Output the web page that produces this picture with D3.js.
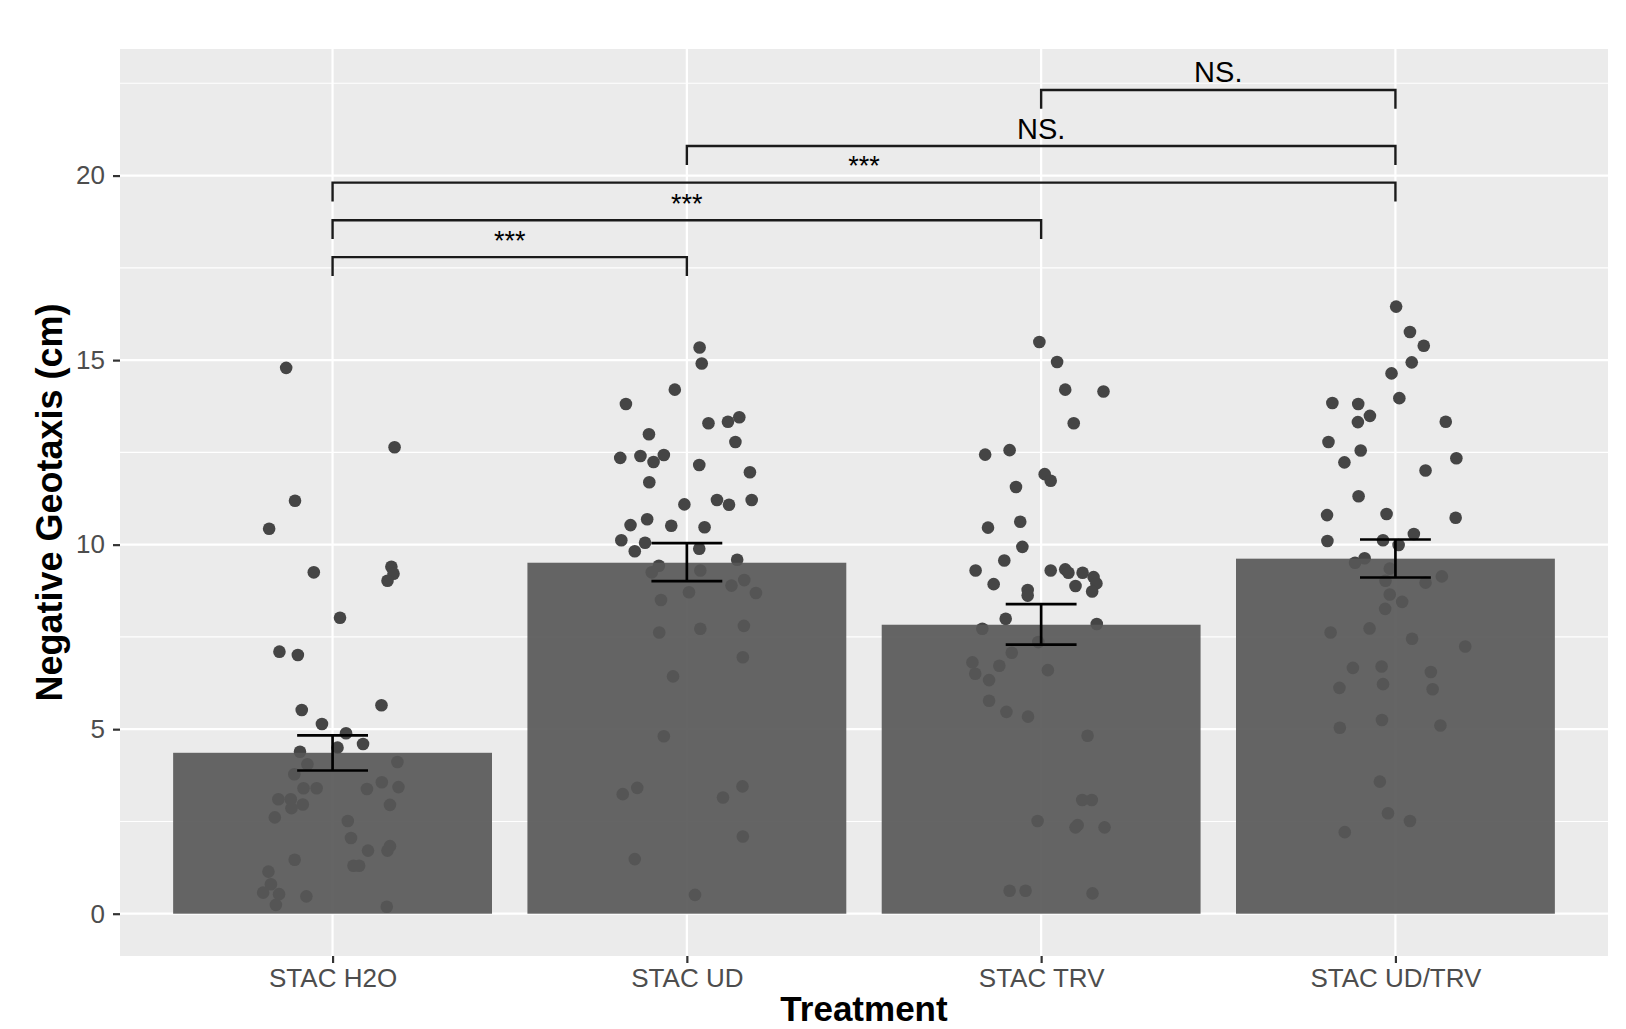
<!DOCTYPE html>
<html>
<head>
<meta charset="utf-8">
<script src="https://cdn.jsdelivr.net/npm/d3@7"></script>
<style>
  html, body { margin: 0; padding: 0; background: #ffffff; }
  svg { display: block; }
  text { font-family: "Liberation Sans", Arial, Helvetica, sans-serif; }
</style>
</head>
<body>
<svg id="chart" width="1626" height="1029"></svg>
<script>
// ---------------- DATA ----------------
const categories = ["STAC H2O", "STAC UD", "STAC TRV", "STAC UD/TRV"];
const barMeans = [4.36, 9.51, 7.83, 9.62];
const errLow  = [3.88, 9.01, 7.29, 9.11];
const errHigh = [4.83, 10.04, 8.39, 10.14];
const yTicks = [0, 5, 10, 15, 20];
const yMinorTicks = [2.5, 7.5, 12.5, 17.5, 22.5];

// individual observations (value, jitter in category units)
const h2oValues = [14.79,12.64,11.19,10.43,9.25,9.40,9.21,9.02,8.02,7.10,7.01,5.52,5.65,5.14,4.89,4.60,4.50,4.39,4.11,4.05,3.78,3.56,3.43,3.40,3.40,3.38,3.10,3.10,2.86,2.96,2.95,2.61,2.51,2.05,1.71,1.83,1.71,1.46,1.30,1.30,1.14,0.80,0.57,0.53,0.47,0.24,0.19];
const h2oJitter = [-0.131,0.175,-0.106,-0.179,-0.053,0.166,0.172,0.155,0.021,-0.150,-0.098,-0.087,0.138,-0.030,0.038,0.086,0.014,-0.092,0.183,-0.071,-0.108,0.139,0.186,-0.082,-0.045,0.097,-0.153,-0.118,-0.116,-0.084,0.162,-0.163,0.043,0.052,0.100,0.162,0.155,-0.107,0.059,0.075,-0.181,-0.174,-0.196,-0.151,-0.074,-0.160,0.153];

const udValues = [15.34,14.91,14.20,13.81,13.29,13.33,13.45,12.99,12.78,12.35,12.40,12.24,12.43,12.16,11.96,11.69,11.09,11.21,11.08,11.21,10.53,10.69,10.51,10.47,10.12,10.05,9.82,9.89,9.59,9.43,9.25,9.30,9.04,8.89,8.71,8.69,8.50,7.62,7.72,7.80,6.95,6.43,4.81,3.24,3.41,3.15,3.45,2.09,1.48,0.51];
const udJitter = [0.036,0.042,-0.034,-0.172,0.061,0.116,0.148,-0.107,0.137,-0.188,-0.131,-0.094,-0.065,0.035,0.178,-0.106,-0.007,0.085,0.119,0.183,-0.159,-0.112,-0.044,0.050,-0.185,-0.118,-0.147,0.035,0.142,-0.079,-0.099,0.038,0.162,0.126,0.006,0.195,-0.073,-0.078,0.038,0.161,0.158,-0.039,-0.065,-0.181,-0.140,0.102,0.157,0.158,-0.147,0.023];

const trvValues = [15.49,14.95,14.20,14.15,13.29,12.44,12.56,11.91,11.73,11.56,10.46,10.62,9.94,9.57,9.30,9.30,9.33,9.24,9.24,9.12,8.95,8.73,8.88,8.93,8.77,8.62,7.99,7.85,7.72,7.36,7.07,6.81,6.72,6.60,6.50,6.33,5.77,5.47,5.34,4.82,3.08,3.08,2.51,2.34,2.40,2.34,0.62,0.62,0.55];
const trvJitter = [-0.005,0.045,0.068,0.176,0.092,-0.158,-0.089,0.010,0.027,-0.071,-0.150,-0.059,-0.053,-0.104,-0.185,0.027,0.068,0.077,0.117,0.148,0.156,0.144,0.097,-0.134,-0.038,-0.038,-0.100,0.157,-0.166,-0.008,-0.083,-0.194,-0.118,0.019,-0.186,-0.147,-0.147,-0.098,-0.037,0.131,0.116,0.143,-0.010,0.097,0.103,0.179,-0.089,-0.044,0.145];

const udtrvValues = [16.45,15.76,15.39,14.94,14.64,13.97,13.84,13.81,13.49,13.32,13.33,12.78,12.55,12.23,12.34,12.01,11.31,10.80,10.83,10.73,10.29,10.10,10.12,9.99,9.63,9.51,9.35,9.02,9.14,8.97,8.65,8.45,8.26,7.62,7.73,7.45,7.24,6.66,6.70,6.55,6.12,6.22,6.08,5.04,5.25,5.10,3.58,2.72,2.51,2.21];
const udtrvJitter = [0.002,0.041,0.080,0.046,-0.011,0.011,-0.178,-0.105,-0.072,-0.106,0.142,-0.189,-0.098,-0.144,0.172,0.085,-0.104,-0.193,-0.025,0.170,0.052,-0.192,-0.035,0.009,-0.087,-0.114,-0.016,-0.028,0.131,0.085,-0.016,0.019,-0.029,-0.183,-0.073,0.047,0.197,-0.120,-0.039,0.100,-0.158,-0.035,0.105,-0.157,-0.038,0.127,-0.044,-0.021,0.041,-0.143];

// significance brackets: [from index, to index, label, y level]
const compFrom   = [0, 0, 0, 1, 2];
const compTo     = [1, 2, 3, 3, 3];
const compLabels = ["***", "***", "***", "NS.", "NS."];
const compY      = [17.79, 18.79, 19.81, 20.80, 22.32];
const tipLength  = 0.51;

// ---------------- LAYOUT ----------------
const panel = { left: 120, right: 1608, top: 49, bottom: 956 };
const yDomain = [-1.146, 23.43];

const svg = d3.select("#chart");

const x = d3.scaleLinear().domain([0.4, categories.length + 0.6]).range([panel.left, panel.right]);
const y = d3.scaleLinear().domain(yDomain).range([panel.bottom, panel.top]);
const unit = x(1) - x(0);

// panel background
svg.append("rect")
  .attr("x", panel.left).attr("y", panel.top)
  .attr("width", panel.right - panel.left).attr("height", panel.bottom - panel.top)
  .attr("fill", "#EBEBEB");

// grid lines
const grid = svg.append("g");
grid.selectAll("line.minor").data(yMinorTicks).join("line")
  .attr("x1", panel.left).attr("x2", panel.right)
  .attr("y1", d => y(d)).attr("y2", d => y(d))
  .attr("stroke", "#ffffff").attr("stroke-width", 1.1);
grid.selectAll("line.major").data(yTicks).join("line")
  .attr("x1", panel.left).attr("x2", panel.right)
  .attr("y1", d => y(d)).attr("y2", d => y(d))
  .attr("stroke", "#ffffff").attr("stroke-width", 2.2);
grid.selectAll("line.vx").data(categories).join("line")
  .attr("x1", (d, i) => x(i + 1)).attr("x2", (d, i) => x(i + 1))
  .attr("y1", panel.top).attr("y2", panel.bottom)
  .attr("stroke", "#ffffff").attr("stroke-width", 2.2);

// points (jittered)
const groups = [
  [h2oValues, h2oJitter],
  [udValues, udJitter],
  [trvValues, trvJitter],
  [udtrvValues, udtrvJitter]
];
const pts = [];
groups.forEach((g, gi) => {
  g[0].forEach((v, k) => pts.push({ gi, v, j: g[1][k] }));
});
svg.append("g").selectAll("circle").data(pts).join("circle")
  .attr("cx", d => x(d.gi + 1 + d.j))
  .attr("cy", d => y(d.v))
  .attr("r", 6.3)
  .attr("fill", "#454545");

// bars (drawn over points, slightly transparent)
svg.append("g").selectAll("rect").data(barMeans).join("rect")
  .attr("x", (d, i) => x(i + 1 - 0.45))
  .attr("width", 0.9 * unit)
  .attr("y", d => y(d))
  .attr("height", d => y(0) - y(d))
  .attr("fill", "#565656")
  .attr("fill-opacity", 0.915);

// error bars
const eb = svg.append("g").attr("stroke", "#000").attr("stroke-width", 2.7).attr("fill", "none");
categories.forEach((c, i) => {
  const cx = x(i + 1);
  const hw = 0.1 * unit;
  eb.append("line").attr("x1", cx).attr("x2", cx).attr("y1", y(errLow[i])).attr("y2", y(errHigh[i]));
  eb.append("line").attr("x1", cx - hw).attr("x2", cx + hw).attr("y1", y(errLow[i])).attr("y2", y(errLow[i]));
  eb.append("line").attr("x1", cx - hw).attr("x2", cx + hw).attr("y1", y(errHigh[i])).attr("y2", y(errHigh[i]));
});

// significance brackets
const br = svg.append("g");
compY.forEach((lvl, k) => {
  const x1 = x(compFrom[k] + 1), x2 = x(compTo[k] + 1);
  const yl = y(lvl), yt = y(lvl - tipLength);
  br.append("path")
    .attr("d", `M${x1},${yt}V${yl}H${x2}V${yt}`)
    .attr("fill", "none").attr("stroke", "#1a1a1a").attr("stroke-width", 2.4);
  br.append("text")
    .attr("x", (x1 + x2) / 2).attr("y", yl - 7.5)
    .attr("text-anchor", "middle")
    .attr("font-size", compLabels[k] === "***" ? 27 : 29).attr("fill", "#000")
    .text(compLabels[k]);
});

// y axis
const yAxis = d3.axisLeft(y).tickValues(yTicks).tickSize(7).tickPadding(8).tickFormat(d3.format("d"));
const gy = svg.append("g").attr("transform", `translate(${panel.left},0)`).call(yAxis);
gy.select(".domain").remove();
gy.selectAll(".tick line").attr("stroke", "#333333").attr("stroke-width", 2.2);
gy.selectAll(".tick text").attr("font-size", 26).attr("fill", "#4D4D4D")
  .attr("font-family", "'Liberation Sans', Arial, sans-serif");

// x axis
const xAxis = d3.axisBottom(x).tickValues(categories.map((c, i) => i + 1)).tickSize(7).tickPadding(6)
  .tickFormat((d) => categories[d - 1]);
const gx = svg.append("g").attr("transform", `translate(0,${panel.bottom})`).call(xAxis);
gx.select(".domain").remove();
gx.selectAll(".tick line").attr("stroke", "#333333").attr("stroke-width", 2.2);
gx.selectAll(".tick text").attr("font-size", 26).attr("fill", "#4D4D4D")
  .attr("font-family", "'Liberation Sans', Arial, sans-serif");

// axis titles
svg.append("text")
  .attr("x", (panel.left + panel.right) / 2).attr("y", 1021)
  .attr("text-anchor", "middle").attr("font-size", 35).attr("font-weight", "bold").attr("fill", "#000")
  .text("Treatment");
svg.append("text")
  .attr("transform", `translate(62,${(panel.top + panel.bottom) / 2}) rotate(-90)`)
  .attr("text-anchor", "middle").attr("font-size", 36).attr("font-weight", "bold").attr("fill", "#000")
  .text("Negative Geotaxis (cm)");
</script>
</body>
</html>
